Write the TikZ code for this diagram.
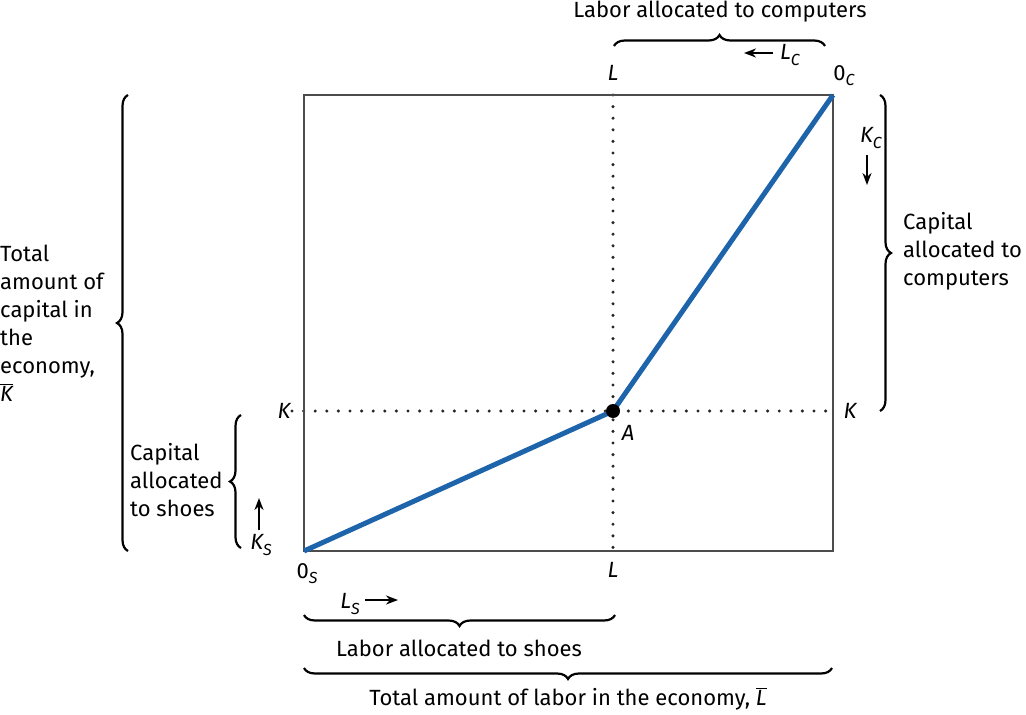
\documentclass[tikz,border=0pt]{standalone}
\usepackage{fontspec}
\setmainfont{Fira Sans}
\usetikzlibrary{decorations.pathreplacing,arrows.meta}
\definecolor{blueline}{RGB}{30,100,170}
\newcommand{\sbs}[1]{\raisebox{-0.45ex}{\fontsize{16}{16}\selectfont\itshape #1}}
\begin{document}
\begin{tikzpicture}[x=1pt,y=-1pt,
 lbl/.style={font=\fontsize{22}{28}\selectfont, inner sep=0pt},
 itl/.style={font=\fontsize{22}{28}\selectfont\itshape, inner sep=0pt},
 dotline/.style={line width=3.4pt, line cap=round, dash pattern=on 0pt off 11.6pt, black!85},
 frame/.style={draw=black!70, line width=1.3pt},
 curve/.style={draw=blueline, line width=5pt, line join=round},
 brc/.style={decorate, decoration={brace, amplitude=11pt}, line width=2.2pt},
 arr/.style={-{Stealth[length=12pt,width=9pt]}, line width=2.3pt}]
\useasboundingbox (0,0) rectangle (1026,715);
% key points
\coordinate (OS) at (304,551);
\coordinate (OC) at (833,95);
\coordinate (TL) at (304,95);
\coordinate (BR) at (833,551);
\coordinate (Ltop) at (613,95);
\coordinate (Lbot) at (613,551);
\coordinate (Kl) at (292,411);
\coordinate (Kr) at (833,411);
\coordinate (A0) at (613,411);
% dotted guides
\draw[dotline] (Ltop) -- (Lbot);
\draw[dotline] (Kl) -- (Kr);
% frame
\draw[frame] (TL) rectangle (BR);
% curve
\draw[curve] (OS) -- (A0) -- (OC);
\node[circle, fill=black, inner sep=0pt, minimum size=14pt] (A) at (A0) {};
% point labels
\node[itl] (Lt) at (613,73) {L};
\node[itl] (Lb) at (613,570) {L};
\node[lbl] (Oc) at (844,76) {0\sbs{C}};
\node[lbl] (Os) at (307,574) {0\sbs{S}};
\node[itl] (Kleft) at (284,411) {K};
\node[itl] (Kright) at (850,411) {K};
\node[itl] (Alab) at (628,433) {A};
% top brace
\coordinate (tb1) at (614,46);
\coordinate (tb2) at (825,46);
\draw[brc] (tb1) -- (tb2);
\node[lbl] (toptxt) at (720,12) {Labor allocated to computers};
\node[itl] (LC) at (790,55) {L\sbs{C}};
\coordinate (lca) at (773,53);
\coordinate (lcb) at (744,53);
\draw[arr] (lca) -- (lcb);
% right brace
\coordinate (rb1) at (880,95);
\coordinate (rb2) at (880,411);
\draw[brc] (rb1) -- (rb2);
\node[lbl, anchor=west, align=left] (rtxt) at (903,251) {Capital\\allocated to\\computers};
\node[itl] (KC) at (871,138) {K\sbs{C}};
\coordinate (kca) at (867,155);
\coordinate (kcb) at (867,185);
\draw[arr] (kca) -- (kcb);
% left big brace
\coordinate (lb1) at (128,551);
\coordinate (lb2) at (128,95);
\draw[brc] (lb1) -- (lb2);
\node[lbl, anchor=west, align=left] (ltxt) at (0,323) {Total\\amount of\\capital in\\the\\economy,\\$\overline{\hbox{\itshape K}}$};
% small left brace
\coordinate (sb1) at (241,548);
\coordinate (sb2) at (241,415);
\draw[brc] (sb1) -- (sb2);
\node[lbl, anchor=west, align=left] (stxt) at (130,480) {Capital\\allocated\\to shoes};
\coordinate (ksa) at (259,530);
\coordinate (ksb) at (259,498);
\draw[arr] (ksa) -- (ksb);
\node[itl] (KS) at (261,545) {K\sbs{S}};
% labor to shoes
\node[itl] (LS) at (350,604) {L\sbs{S}};
\coordinate (lsa) at (365,600);
\coordinate (lsb) at (398,600);
\draw[arr] (lsa) -- (lsb);
\coordinate (bb1) at (615,615);
\coordinate (bb2) at (304,615);
\draw[brc] (bb1) -- (bb2);
\node[lbl] (shoetxt) at (459,648) {Labor allocated to shoes};
% total labor
\coordinate (tl1) at (832,668);
\coordinate (tl2) at (304,668);
\draw[brc] (tl1) -- (tl2);
\node[lbl] (totl) at (568,699) {Total amount of labor in the economy, $\overline{\hbox{\itshape L}}$};
\end{tikzpicture}
\end{document}
